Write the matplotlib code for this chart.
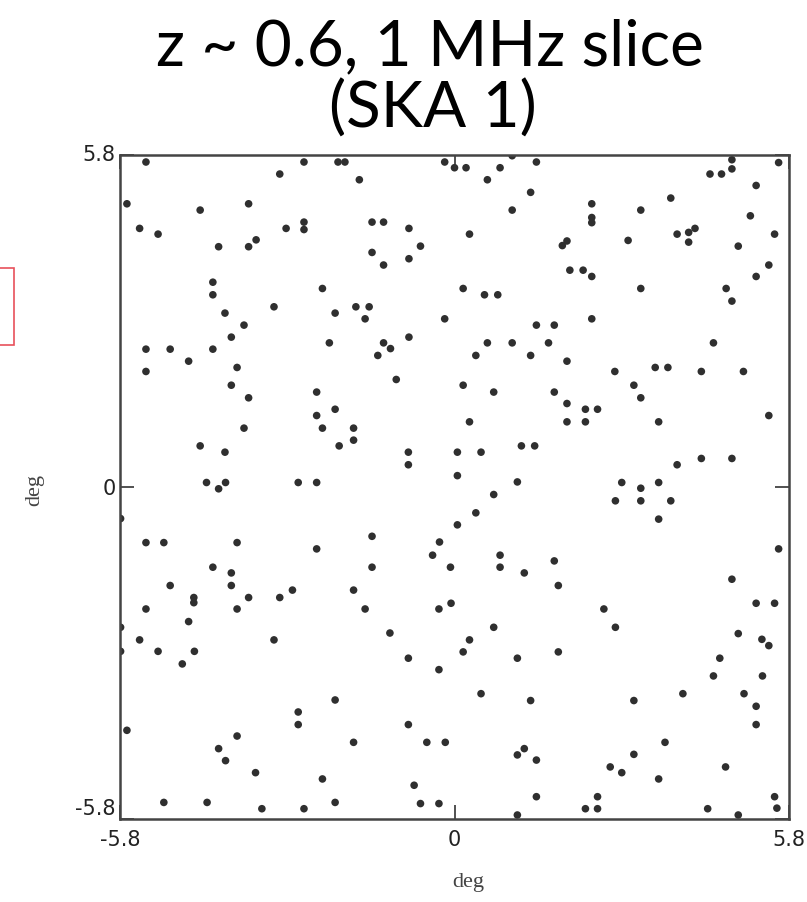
import matplotlib.pyplot as plt
from matplotlib.patches import Rectangle

top_ra = [-5.35, -2.61, -2.02, -1.90, -3.03, -5.68, -3.57, -4.41, -5.46, -5.14, -2.92, -2.61,
          -2.61, -3.44, -3.57, -4.09, -4.19, -4.19, -2.29, -3.13, -3.98, -2.07, -3.65, -3.87,
          -2.17, -5.35, -4.93, -4.19, -4.61, -3.77, -5.35,
          -0.17, 0.00, 0.20, 1.00, 1.42, 0.79, -1.65, 0.57, 1.32, 1.00, -1.43, -1.23, -0.79,
          0.26, -0.59, 1.87, 1.95, -1.43, -1.23, -0.79, 0.15, 0.52, 0.75, -1.71, -1.48, -1.55,
          -0.17, 1.42, 1.73, -1.23, -1.11, -0.79, -1.33, 0.37, 0.57, 1.00, 1.63, 1.32,
          4.81, 4.81, 4.43, 4.63, 5.62, 5.23, 2.38, 2.38, 2.38, 3.23, 3.75, 5.13, 4.17, 4.06,
          4.06, 3.86, 3.01, 5.55, 4.92, 2.00, 2.23, 2.38, 3.23, 4.71, 4.81, 5.45, 5.23, 2.38,
          4.49, 1.95, 2.78, 3.48, 3.70, 4.28, 5.01]
top_dec = [5.68, 5.68, 5.68, 5.68, 5.47, 4.95, 4.95, 4.84, 4.52, 4.42, 4.52, 4.63,
           4.50, 4.32, 4.20, 4.20, 3.58, 3.36, 3.47, 3.15, 3.04, 3.04, 2.83, 2.62,
           2.52, 2.41, 2.41, 2.41, 2.20, 2.09, 2.02,
           5.68, 5.58, 5.58, 5.79, 5.68, 5.58, 5.37, 5.37, 5.15, 4.84, 4.63, 4.63, 4.52,
           4.42, 4.21, 4.22, 4.30, 4.10, 3.88, 3.99, 3.47, 3.36, 3.36, 3.15, 3.15, 2.94,
           2.94, 2.83, 2.83, 2.52, 2.42, 2.62, 2.30, 2.30, 2.52, 2.52, 2.52, 2.30,
           5.72, 5.56, 5.47, 5.47, 5.67, 5.27, 4.95, 4.71, 4.62, 4.84, 5.05, 4.74, 4.52, 4.45,
           4.28, 4.42, 4.31, 4.42, 4.21, 3.79, 3.79, 3.68, 3.47, 3.47, 3.25, 3.88, 3.68, 2.94,
           2.52, 2.20, 2.02, 2.09, 2.09, 2.02, 2.02]

mid_ra = [-3.87, -3.57, -2.39, -2.07, -2.39, -2.29, -3.65, -2.00, -4.41, -3.98, -4.30, -3.97,
          -4.09, -2.71, -2.39, -5.79, -5.35, -5.04, -3.77, -2.39, -4.19, -3.87, -3.87, -4.93,
          -2.81,
          -1.01, 0.15, 0.68, 1.73, -1.75, -1.75, 0.26, -0.80, -0.80, 0.05, 0.46, 1.16, 1.39,
          0.05, 1.09, 0.68, 0.37, 0.05, -1.43, -0.26, -0.38, 0.79, 0.79, -1.43, -0.07, 1.21,
          1.73, 1.80, -1.75,
          3.11, 3.23, 1.95, 2.27, 2.48, 1.95, 2.27, 3.54, 5.45, 3.86, 4.28, 4.81, 2.90, 3.54,
          3.23, 2.79, 3.23, 3.75, 3.54, 5.62, 4.81]
mid_dec = [1.78, 1.56, 1.66, 1.36, 1.25, 1.03, 1.03, 0.72, 0.72, 0.61, 0.08, 0.08,
           -0.03, 0.08, 0.08, -0.55, -0.97, -0.97, -0.97, -1.08, -1.40, -1.50, -1.72, -1.72,
           -1.80,
           1.88, 1.78, 1.66, 1.66, 1.03, 0.82, 1.14, 0.61, 0.39, 0.61, 0.61, 0.72, 0.72,
           0.20, 0.09, -0.13, -0.45, -0.66, -0.86, -0.96, -1.19, -1.19, -1.40, -1.40, -1.40, -1.50,
           -1.29, -1.72, -1.80,
           1.78, 1.56, 1.46, 1.36, 1.36, 1.14, 1.14, 1.14, 1.25, 0.39, 0.50, 0.50, 0.08, 0.08,
           -0.02, -0.24, -0.24, -0.24, -0.56, -1.08, -1.61]

bot_ra = [-4.52, -4.52, -3.57, -3.03, -5.35, -3.77, -4.61, -5.79, -5.46, -3.13, -5.79, -5.14,
          -4.51, -4.72, -2.07, -2.71, -2.71, -5.68, -3.77, -4.09, -3.97, -3.45, -2.29, -5.04,
          -4.29, -3.34, -2.61, -2.07,
          -1.55, -0.27, -0.06, -1.12, 0.68, 0.26, 0.15, -0.80, -0.27, 1.09, 1.80, 0.46, 1.32,
          -0.80, -1.75, -0.48, -0.16, 1.21, 1.09, 1.42, -0.70, -0.59, -0.27, 1.42, 1.09,
          2.59, 2.79, 5.23, 5.55, 4.92, 5.33, 5.45, 4.60, 4.49, 5.34, 3.11, 3.96, 5.02, 5.23,
          5.23, 3.65, 3.11, 2.70, 2.90, 3.54, 4.70, 2.48, 2.27, 2.48, 4.39, 4.92, 5.55, 5.59]
bot_dec = [-1.93, -2.02, -1.93, -1.93, -2.13, -2.13, -2.35, -2.45, -2.67, -2.67, -2.87, -2.87,
           -2.87, -3.09, -3.72, -3.93, -4.15, -4.25, -4.35, -4.57, -4.78, -4.99, -5.10, -5.51,
           -5.51, -5.62, -5.62, -5.51,
           -2.13, -2.13, -2.03, -2.55, -2.45, -2.67, -2.88, -2.99, -3.19, -2.99, -2.88, -3.61,
           -3.73, -4.15, -4.46, -4.46, -4.46, -4.57, -4.68, -4.77, -5.21, -5.53, -5.53, -5.41,
           -5.73,
           -2.13, -2.45, -2.03, -2.03, -2.56, -2.66, -2.77, -2.99, -3.30, -3.30, -3.73, -3.61,
           -3.61, -3.83, -4.15, -4.46, -4.67, -4.89, -4.99, -5.10, -4.89, -5.41, -5.62, -5.62,
           -5.62, -5.73, -5.41, -5.61]

ticks = [-5.8, 0, 5.8]
tick_labels = ['-5.8', '0', '5.8']

fig = plt.figure(figsize=(8.07, 9.02), dpi=100)
ax = fig.add_axes([0.1487, 0.092, 0.829, 0.736])

for ra, dec in [(top_ra, top_dec), (mid_ra, mid_dec), (bot_ra, bot_dec)]:
    ax.scatter(ra, dec, s=30, marker='o', color='#2f2f2f', edgecolors='none')

ax.set_xlim(-5.8, 5.8)
ax.set_ylim(-5.8, 5.8)
ax.set_xticks(ticks)
ax.set_xticklabels(tick_labels)
ax.set_yticks(ticks)
ax.set_yticklabels(tick_labels)
ax.tick_params(direction='in', length=10, width=1.2, top=True, right=True,
               labelsize=15, colors='#333333', labelcolor='#222222')
ax.tick_params(axis='x', pad=8)
ax.tick_params(axis='y', pad=3)
# nudge the outer y labels inwards like the original
ylabs = ax.get_yticklabels()
ylabs[0].set_va('bottom')
ylabs[2].set_va('center')
for sp in ax.spines.values():
    sp.set_linewidth(1.8)
    sp.set_color('#444444')

fig.text(0.58, 0.022, 'deg', ha='center', va='center', fontsize=16,
         family='Liberation Serif', color='#444444')
fig.text(0.043, 0.457, 'deg', ha='center', va='center', fontsize=16, rotation=90,
         family='Liberation Serif', color='#444444')

fig.text(0.533, 0.948, 'z ~ 0.6, 1 MHz slice', ha='center', va='center',
         fontsize=46, family='Lato')
fig.text(0.537, 0.879, '(SKA 1)', ha='center', va='center', fontsize=46, family='Lato')

# edge of the neighbouring panel's marker box
fig.add_artist(Rectangle((-0.01, 1 - 345 / 902), 0.01 + 14 / 807, 77 / 902,
                         transform=fig.transFigure, fill=False,
                         edgecolor='#e8505b', linewidth=1.2))

plt.savefig('out.png', dpi=100)
plt.close()
